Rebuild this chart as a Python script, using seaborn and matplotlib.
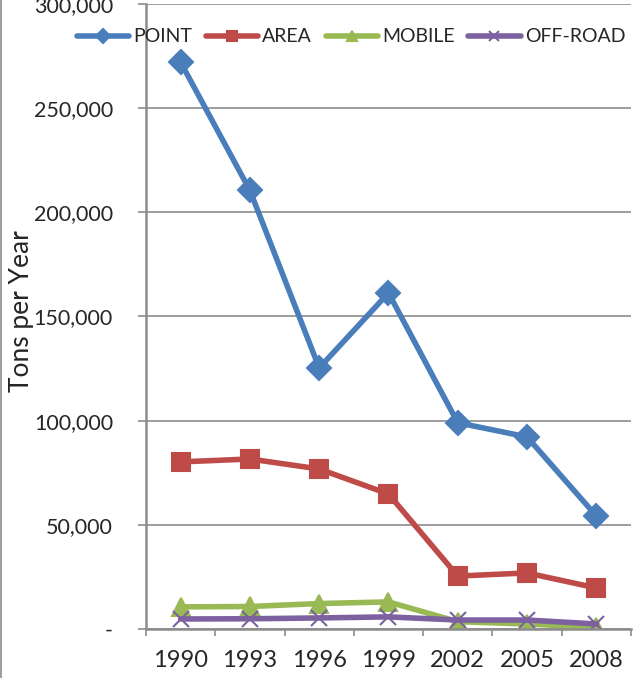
import matplotlib
matplotlib.use('Agg')
import matplotlib.pyplot as plt
import seaborn as sns
from matplotlib.ticker import FuncFormatter, FixedLocator
from matplotlib.lines import Line2D

years = ['1990', '1993', '1996', '1999', '2002', '2005', '2008']
point = [272000, 210500, 125300, 161300, 99000, 92200, 54300]
area = [80200, 81600, 76800, 64800, 25400, 26900, 19700]
mobile = [10600, 10800, 12200, 13000, 3500, 2400, 800]
offroad = [4800, 4900, 5300, 5800, 4300, 4300, 2400]

series = [
    ('POINT', point, '#4A7EBB', 'D', 12),
    ('AREA', area, '#BE4B48', 's', 13),
    ('MOBILE', mobile, '#98B954', '^', 13),
    ('OFF-ROAD', offroad, '#7D60A0', 'x', 12),
]

sns.set_style('white')
plt.rcParams['font.family'] = ['Lato', 'DejaVu Sans']

fig = plt.figure(figsize=(6.33, 6.78), dpi=100)
ax = fig.add_axes([0.2307, 0.0723, 0.766, 0.9218])

for name, vals, col, mk, ms in series:
    sns.lineplot(x=years, y=vals, ax=ax, color=col, linewidth=4.0, marker=mk,
                 markersize=ms, markeredgecolor=col, markeredgewidth=1.5,
                 label=name, sort=False)

ax.set_xlim(-0.5, 6.5)
ax.set_ylim(0, 300000)
ax.set_yticks(range(0, 300001, 50000))
ax.yaxis.set_major_formatter(FuncFormatter(lambda v, p: '-' if v == 0 else f'{int(v):,}'))
ax.grid(axis='y', color='#8C8C8C', linewidth=1.2)
ax.grid(axis='x', visible=False)
ax.set_axisbelow(True)

ax.xaxis.set_minor_locator(FixedLocator([i - 0.5 for i in range(8)]))
ax.tick_params(axis='x', which='major', length=0, pad=15, labelsize=17)
ax.tick_params(axis='x', which='minor', length=5, width=1.2, color='#8C8C8C', direction='out', bottom=True)
ax.tick_params(axis='y', which='major', length=5.8, width=1.2, color='#8C8C8C', direction='out', left=True, pad=18, labelsize=15.5)

for s in ['top', 'right']:
    ax.spines[s].set_visible(False)
for s in ['left', 'bottom']:
    ax.spines[s].set_color('#8C8C8C')
    ax.spines[s].set_linewidth(1.8)

ax.set_xlabel('')
ax.set_ylabel('Tons per Year', fontsize=19, va='center')
ax.yaxis.set_label_coords(22 / 633, 0.541, transform=fig.transFigure)

ax.get_legend().remove()
handles, labels = ax.get_legend_handles_labels()
fig.legend(handles, labels, loc='center', bbox_to_anchor=(0.5545, 1 - 37 / 678), ncol=4,
           frameon=False, fontsize=14, handlelength=2.7, handletextpad=0.2,
           columnspacing=0.7, borderaxespad=0, markerscale=0.6)

fig.add_artist(Line2D([0.001, 0.001], [0, 1], transform=fig.transFigure, color='#A0A0A0', linewidth=1.5))

fig.savefig('out.png', dpi=100)
